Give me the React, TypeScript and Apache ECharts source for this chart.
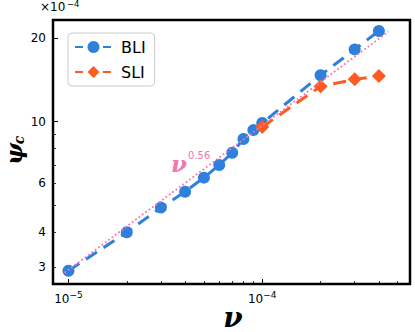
import React, { useEffect, useRef } from "react";
import * as echarts from "echarts";

// data (nu in raw units, psi_c in units of 1e-4)
const nuBLI = [1e-5, 2e-5, 3e-5, 4e-5, 5e-5, 6e-5, 7e-5, 8e-5, 9e-5, 1e-4, 2e-4, 3e-4, 4e-4];
const psiBLI = [2.91, 4.0, 4.91, 5.6, 6.29, 6.99, 7.73, 8.66, 9.33, 9.89, 14.7, 18.2, 21.2];
const nuSLI = [1e-4, 2e-4, 3e-4, 4e-4];
const psiSLI = [9.57, 13.4, 14.2, 14.6];
const nuFit = [9.54e-6, 4.48e-4];
const psiFit = [2.86, 21.1];

const xMajorTicks = [1e-5, 1e-4];
const xMinorTicks = [2e-5, 3e-5, 4e-5, 5e-5, 6e-5, 7e-5, 8e-5, 9e-5, 2e-4, 3e-4, 4e-4, 5e-4];
const yLabelTicks = [3, 4, 6, 10, 20];
const yMajorTicks = [10, 20];
const yMinorTicks = [3, 4, 5, 6, 7, 8, 9];

const X_MIN = 8.32e-6;
const X_MAX = 5.79e-4;
const Y_MIN = 2.607;
const Y_MAX = 23.22;

const lg = Math.log10;
const pairs = (xs: number[], ys: number[]) => xs.map((x, i) => [lg(x), lg(ys[i])]);

const BLUE = "#2f80dd";
const ORANGE = "#ff5a1f";
const PINK = "#f574b4";

export default function App() {
  const ref = useRef<HTMLDivElement>(null);
  useEffect(() => {
    if (!ref.current) return;
    const chart = echarts.init(ref.current, null, { renderer: "svg" });
    const xCommon = {
      type: "value" as const,
      min: lg(X_MIN),
      max: lg(X_MAX),
      position: "bottom" as const,
      axisLine: { show: false },
      splitLine: { show: false },
    };
    const yCommon = {
      type: "value" as const,
      min: lg(Y_MIN),
      max: lg(Y_MAX),
      position: "left" as const,
      axisLine: { show: false },
      splitLine: { show: false },
    };
    chart.setOption({
      animation: false,
      grid: {
        left: 53,
        top: 20,
        right: 5,
        bottom: 48,
        show: true,
        borderColor: "#000",
        borderWidth: 2.5,
        backgroundColor: "transparent",
      },
      legend: {
        orient: "vertical",
        left: 68,
        top: 33,
        padding: [6, 9, 6, 6],
        itemWidth: 37,
        itemHeight: 15,
        itemGap: 9,
        backgroundColor: "#fff",
        borderColor: "#cccccc",
        borderWidth: 1,
        borderRadius: 4,
        lineStyle: { type: [8, 20], width: 2 },
        textStyle: { fontFamily: "DejaVu Sans", fontSize: 16, color: "#000", padding: [0, 0, 0, 4] },
        data: ["BLI", "SLI"],
      },
      xAxis: [
        {
          ...xCommon,
          axisTick: {
            show: true,
            inside: true,
            length: 5,
            lineStyle: { color: "#000", width: 1 },
            customValues: xMajorTicks.map(lg),
          },
          axisLabel: {
            show: true,
            margin: 6,
            customValues: xMajorTicks.map(lg),
            formatter: (v: number) => `{b|10}{s|−${Math.round(-v)}}`,
            rich: {
              b: { fontFamily: "DejaVu Sans", fontSize: 12, color: "#000" },
              s: { fontFamily: "DejaVu Sans", fontSize: 9, color: "#000", padding: [0, 0, 9, 0] },
            },
          },
        },
        {
          ...xCommon,
          axisTick: {
            show: true,
            inside: true,
            length: 3,
            lineStyle: { color: "#000", width: 0.8 },
            customValues: xMinorTicks.map(lg),
          },
          axisLabel: { show: false },
        },
      ],
      yAxis: [
        {
          ...yCommon,
          axisTick: {
            show: true,
            inside: true,
            length: 5,
            lineStyle: { color: "#000", width: 1 },
            customValues: yMajorTicks.map(lg),
          },
          axisLabel: {
            show: true,
            margin: 7,
            customValues: yLabelTicks.map(lg),
            formatter: (v: number) => `${Math.round(Math.pow(10, v))}`,
            fontFamily: "DejaVu Sans",
            fontSize: 12,
            color: "#000",
          },
        },
        {
          ...yCommon,
          axisTick: {
            show: true,
            inside: true,
            length: 3,
            lineStyle: { color: "#000", width: 0.8 },
            customValues: yMinorTicks.map(lg),
          },
          axisLabel: { show: false },
        },
      ],
      series: [
        {
          name: "BLI",
          type: "line",
          data: pairs(nuBLI, psiBLI),
          symbol: "circle",
          symbolSize: 12,
          itemStyle: { color: BLUE },
          lineStyle: { color: BLUE, width: 3, type: [13, 8] },
          z: 2,
        },
        {
          name: "SLI",
          type: "line",
          data: pairs(nuSLI, psiSLI),
          symbol: "diamond",
          symbolSize: [14, 14],
          itemStyle: { color: ORANGE },
          lineStyle: { color: ORANGE, width: 3, type: [13, 8] },
          z: 3,
        },
        {
          name: "fit",
          type: "line",
          data: pairs(nuFit, psiFit),
          symbol: "none",
          lineStyle: { color: PINK, width: 1.8, type: [1.8, 2.4] },
          z: 4,
        },
      ],
      graphic: [
        {
          type: "text",
          left: 40,
          top: 1,
          style: { text: "×10", font: "12px DejaVu Sans", fill: "#000" },
        },
        {
          type: "text",
          left: 67,
          top: -1,
          style: { text: "−4", font: "8.5px DejaVu Sans", fill: "#000" },
        },
        {
          type: "text",
          x: 179,
          y: 163,
          style: {
            text: "ν",
            font: "italic bold 23px DejaVu Serif",
            fill: PINK,
            align: "center",
            verticalAlign: "middle",
          },
        },
        {
          type: "text",
          x: 188,
          y: 155,
          style: {
            text: "0.56",
            font: "10px DejaVu Sans",
            fill: PINK,
            align: "left",
            verticalAlign: "middle",
          },
        },
        {
          type: "text",
          x: 233,
          y: 317,
          style: {
            text: "ν",
            font: "italic bold 28px DejaVu Serif",
            fill: "#000",
            align: "center",
            verticalAlign: "middle",
          },
        },
        {
          type: "text",
          x: 13,
          y: 154,
          rotation: Math.PI / 2,
          style: {
            text: "ψ",
            font: "italic bold 23px DejaVu Serif",
            fill: "#000",
            align: "center",
            verticalAlign: "middle",
          },
        },
        {
          type: "text",
          x: 19,
          y: 140,
          rotation: Math.PI / 2,
          style: {
            text: "c",
            font: "italic bold 14px DejaVu Serif",
            fill: "#000",
            align: "center",
            verticalAlign: "middle",
          },
        },
      ],
    });
    return () => chart.dispose();
  }, []);
  return (
    <div
      ref={ref}
      style={{ position: "fixed", left: 0, top: 0, width: 415, height: 332, background: "#fff" }}
    />
  );
}
